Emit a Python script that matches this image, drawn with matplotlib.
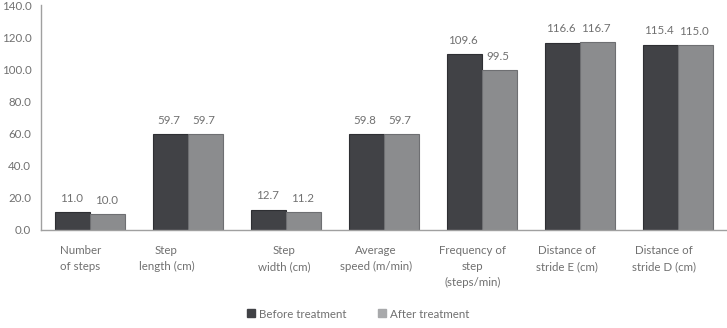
import matplotlib
matplotlib.use("Agg")
import matplotlib.pyplot as plt
import numpy as np
from matplotlib.lines import Line2D

categories = ["Number\nof steps", "Step\nlength (cm)", "Step\nwidth (cm)",
              "Average\nspeed (m/min)", "Frequency of\nstep\n(steps/min)",
              "Distance of\nstride E (cm)", "Distance of\nstride D (cm)"]
before = [11.0, 59.7, 12.7, 59.8, 109.6, 116.6, 115.4]
after = [10.0, 59.7, 11.2, 59.7, 99.5, 116.7, 115.0]
series_names = ["Before treatment", "After treatment"]
yticks = [0, 20, 40, 60, 80, 100, 120, 140]
label_offsets = [-0.10, -0.22, -0.02, -0.08, -0.10, -0.13, -0.14]

plt.rcParams['font.family'] = ['Lato', 'DejaVu Sans']
dark = "#414246"
light = "#8b8c8e"
txt = "#707070"
fs = 8.3

fig = plt.figure(figsize=(7.27, 3.28), dpi=100)
ax = fig.add_axes([41/727, 98/328, 686/727, 225/328])

x = np.arange(len(categories))
w = 0.357
b1 = ax.bar(x - w/2, before, w, color=dark, edgecolor="#2e2f33", linewidth=0.8)
b2 = ax.bar(x + w/2, after, w, color=light, edgecolor="#6e6f72", linewidth=0.8)

for bars, vals in ((b1, before), (b2, after)):
    for r, v in zip(bars, vals):
        ax.annotate(f"{v:.1f}", (r.get_x() + r.get_width()/2, v),
                    xytext=(-1, 6), textcoords="offset points",
                    ha="center", va="bottom", fontsize=fs, color=txt)

ax.set_xlim(-0.5, len(categories) - 0.5)
ax.set_ylim(0, 140)
ax.set_yticks(yticks)
ax.set_yticklabels([f"{v:.1f}" for v in yticks])
ax.set_xticks(x + np.array(label_offsets))
ax.set_xticklabels(categories, linespacing=1.55)
ax.tick_params(axis="both", length=0, labelsize=fs, labelcolor=txt)
ax.tick_params(axis="y", pad=7)
ax.tick_params(axis="x", pad=11)

for s in ("top", "right"):
    ax.spines[s].set_visible(False)
for s in ("left", "bottom"):
    ax.spines[s].set_color("#a0a0a0")
    ax.spines[s].set_linewidth(1.0)

handles = [Line2D([], [], marker="s", linestyle="none", markersize=6,
                  markerfacecolor=c, markeredgecolor=c) for c in (dark, "#a8a9ab")]
leg = fig.legend(handles, series_names, loc="center", bbox_to_anchor=(357/727, 1 - 314/328),
                 ncol=2, frameon=False, fontsize=fs, handletextpad=0.2,
                 columnspacing=2.6, handlelength=1.0)
for t in leg.get_texts():
    t.set_color(txt)

fig.savefig("out.png", dpi=100)
